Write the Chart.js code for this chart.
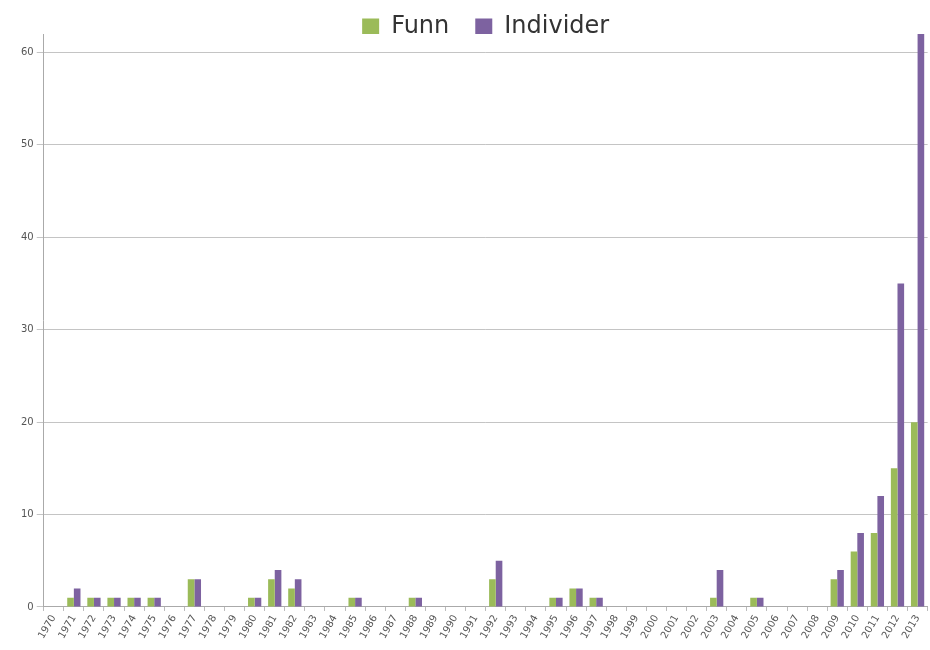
<!DOCTYPE html>
<html><head><meta charset="utf-8">
<script src="https://cdn.jsdelivr.net/npm/chart.js@4"></script>
<style>html,body{margin:0;padding:0;background:#fff}#wrap{width:930px;height:650px}</style>
</head><body><div id="wrap"><canvas id="c" width="930" height="650"></canvas></div>
<script>
const years = ["1970","1971","1972","1973","1974","1975","1976","1977","1978","1979","1980","1981","1982","1983","1984","1985","1986","1987","1988","1989","1990","1991","1992","1993","1994","1995","1996","1997","1998","1999","2000","2001","2002","2003","2004","2005","2006","2007","2008","2009","2010","2011","2012","2013"];
const funn =     [0,1,1,1,1,1,0,3,0,0,1,3,2,0,0,1,0,0,1,0,0,0,3,0,0,1,2,1,0,0,0,0,0,1,0,1,0,0,0,3,6,8,15,20];
const individer =[0,2,1,1,1,1,0,3,0,0,1,4,3,0,0,1,0,0,1,0,0,0,5,0,0,1,2,1,0,0,0,0,0,4,0,1,0,0,0,4,8,12,35,62];
const yTicks = [0,10,20,30,40,50,60];

const legendFix = {
  id: 'legendFix',
  beforeLayout(chart) {
    const lg = chart.legend;
    if (lg && !lg._fixed) {
      const f = lg.fit;
      lg.fit = function () { f.call(this); this.height = 33; };
      lg._fixed = true;
    }
  }
};

new Chart(document.getElementById('c'), {
  type: 'bar',
  data: {
    labels: years,
    datasets: [
      {label: 'Funn\u2002', data: funn, backgroundColor: '#9bbb59', categoryPercentage: 0.66, barPercentage: 1.0},
      {label: 'Individer', data: individer, backgroundColor: '#7d62a0', categoryPercentage: 0.66, barPercentage: 1.0}
    ]
  },
  plugins: [legendFix],
  options: {
    responsive: false,
    animation: false,
    layout: {padding: {left: 18, right: 1, top: 1, bottom: 7}},
    plugins: {
      legend: {
        position: 'top',
        fullSize: false,
        labels: {font: {family: 'DejaVu Sans', size: 24}, color: '#333', boxWidth: 17, boxHeight: 17, padding: 14}
      },
      tooltip: {enabled: false}
    },
    scales: {
      x: {
        grid: {display: true, drawOnChartArea: false, tickLength: 4, color: '#bbb'},
        border: {color: '#aaa'},
        ticks: {font: {family: 'DejaVu Sans', size: 10}, color: '#555', minRotation: 60, maxRotation: 60, autoSkip: false, padding: 2}
      },
      y: {
        min: 0, max: 62,
        afterBuildTicks: (axis) => { axis.ticks = yTicks.map(v => ({value: v})); },
        grid: {color: '#c4c4c4', tickLength: 7, lineWidth: 1},
        border: {color: '#aaa'},
        ticks: {font: {family: 'DejaVu Sans', size: 10}, color: '#555', padding: 3}
      }
    }
  }
});
</script></body></html>
